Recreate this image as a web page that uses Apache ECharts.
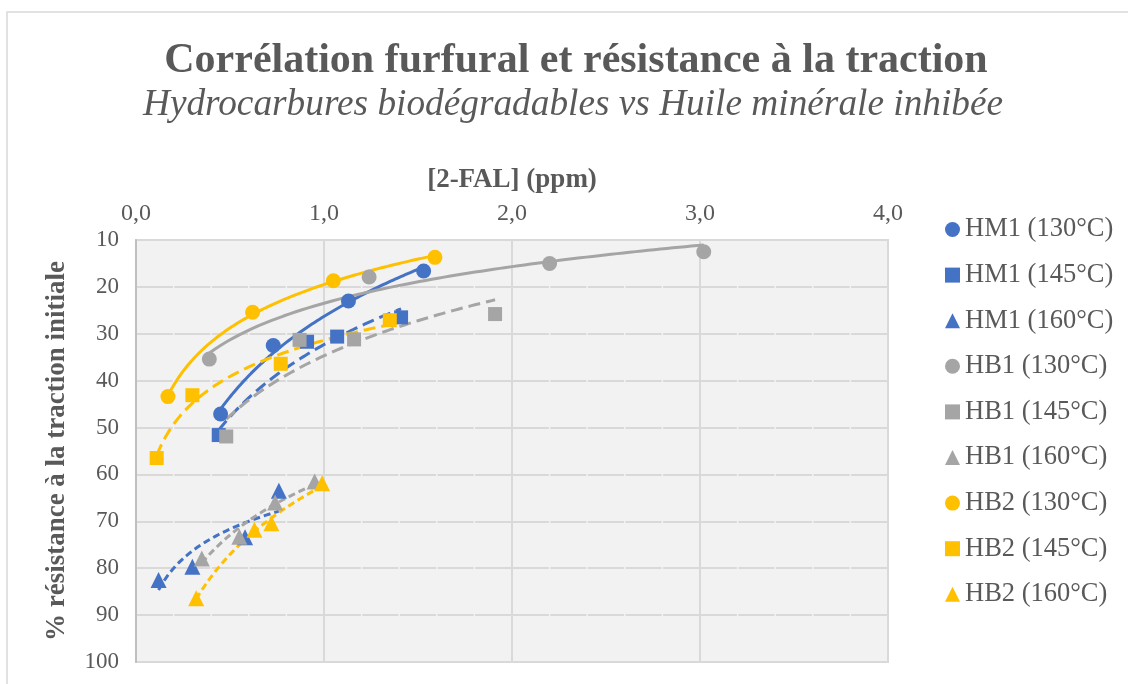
<!DOCTYPE html>
<html>
<head>
<meta charset="utf-8">
<script src="https://cdn.jsdelivr.net/npm/echarts@6/dist/echarts.min.js"></script>
<style>
  html, body { margin: 0; padding: 0; background: #ffffff; }
  #chart { width: 1128px; height: 684px; }
</style>
</head>
<body>
<div id="chart"></div>
<script>
// [2-FAL] concentration (ppm) and % of initial tensile strength, per oil and ageing temperature
const hm1_130_x = [0.45, 0.73, 1.13, 1.53];
const hm1_130_y = [47.1, 32.5, 23.0, 16.6];
const hm1_145_x = [0.44, 0.91, 1.07, 1.41];
const hm1_145_y = [51.6, 31.7, 30.6, 26.5];
const hm1_160_x = [0.12, 0.30, 0.58, 0.76];
const hm1_160_y = [82.5, 79.7, 73.4, 63.5];
const hb1_130_x = [0.39, 1.24, 2.20, 3.02];
const hb1_130_y = [35.4, 17.9, 15.0, 12.5];
const hb1_145_x = [0.48, 0.87, 1.16, 1.91];
const hb1_145_y = [51.9, 31.3, 31.2, 25.8];
const hb1_160_x = [0.35, 0.55, 0.74, 0.95];
const hb1_160_y = [77.9, 73.3, 66.0, 61.5];
const hb2_130_x = [0.17, 0.62, 1.05, 1.59];
const hb2_130_y = [43.4, 25.4, 18.7, 13.7];
const hb2_145_x = [0.11, 0.30, 0.77, 1.35];
const hb2_145_y = [56.5, 43.1, 36.4, 27.1];
const hb2_160_x = [0.32, 0.63, 0.72, 0.99];
const hb2_160_y = [86.4, 71.8, 70.4, 61.9];

const seriesNames = [
  'HM1 (130°C)', 'HM1 (145°C)', 'HM1 (160°C)',
  'HB1 (130°C)', 'HB1 (145°C)', 'HB1 (160°C)',
  'HB2 (130°C)', 'HB2 (145°C)', 'HB2 (160°C)'
];
const xTickLabels = ['0,0', '1,0', '2,0', '3,0', '4,0'];
const yTickValues = [10, 20, 30, 40, 50, 60, 70, 80, 90, 100];

const title = 'Corrélation furfural et résistance à la traction';
const subtitle = 'Hydrocarbures biodégradables vs Huile minérale inhibée';
const xName = '[2-FAL] (ppm)';
const yName = '% résistance à la traction initiale';

// ---- styling ----
const FONT = '"Liberation Serif", "Times New Roman", serif';
const TXT = '#595959';
const BLUE = '#4472C4', GRAY = '#A5A5A5', GOLD = '#FFC000';

const groups = [
  { x: hm1_130_x, y: hm1_130_y, color: BLUE, symbol: 'circle', size: 15, dash: 'solid' },
  { x: hm1_145_x, y: hm1_145_y, color: BLUE, symbol: 'rect', size: 14, dash: [12, 6] },
  { x: hm1_160_x, y: hm1_160_y, color: BLUE, symbol: 'triangle', size: 16, dash: [7, 4] },
  { x: hb1_130_x, y: hb1_130_y, color: GRAY, symbol: 'circle', size: 15, dash: 'solid' },
  { x: hb1_145_x, y: hb1_145_y, color: GRAY, symbol: 'rect', size: 14, dash: [12, 6] },
  { x: hb1_160_x, y: hb1_160_y, color: GRAY, symbol: 'triangle', size: 16, dash: [7, 4] },
  { x: hb2_130_x, y: hb2_130_y, color: GOLD, symbol: 'circle', size: 15, dash: 'solid' },
  { x: hb2_145_x, y: hb2_145_y, color: GOLD, symbol: 'rect', size: 14, dash: [12, 6] },
  { x: hb2_160_x, y: hb2_160_y, color: GOLD, symbol: 'triangle', size: 16, dash: [7, 4] }
];

// Logarithmic least-squares trend line y = a + b·ln(x), drawn over the measured x range
function logTrend(xs, ys, steps) {
  const n = xs.length;
  const lx = xs.map(Math.log);
  const mx = lx.reduce((s, v) => s + v, 0) / n;
  const my = ys.reduce((s, v) => s + v, 0) / n;
  let sxy = 0, sxx = 0;
  for (let i = 0; i < n; i++) { sxy += (lx[i] - mx) * (ys[i] - my); sxx += (lx[i] - mx) ** 2; }
  const b = sxy / sxx, a = my - b * mx;
  const x0 = Math.min(...xs), x1 = Math.max(...xs);
  const pts = [];
  for (let i = 0; i <= steps; i++) {
    const x = x0 + (x1 - x0) * i / steps;
    pts.push([x, a + b * Math.log(x)]);
  }
  return pts;
}

const series = [];
groups.forEach((g, i) => {
  series.push({
    name: seriesNames[i] + ' – tendance',
    type: 'line',
    data: logTrend(g.x, g.y, 80),
    showSymbol: false,
    symbol: 'none',
    silent: true,
    z: 2,
    lineStyle: { color: g.color, width: 3, type: g.dash, cap: 'butt' }
  });
});
groups.forEach((g, i) => {
  series.push({
    name: seriesNames[i],
    type: 'scatter',
    data: g.x.map((v, k) => [v, g.y[k]]),
    symbol: g.symbol,
    symbolSize: g.size,
    z: 3,
    itemStyle: { color: g.color, opacity: 1 }
  });
});

const grid = { left: 136, top: 240, width: 752, height: 422 };
const minorStep = grid.width / 20; // minor division every 0.2 ppm

const chart = echarts.init(document.getElementById('chart'), null, { renderer: 'canvas' });
chart.setOption({
  backgroundColor: '#ffffff',
  animation: false,
  textStyle: { fontFamily: FONT },
  graphic: [
    { type: 'rect', z: -10, silent: true,
      shape: { x: 7, y: 12, width: 1200, height: 800 },
      style: { fill: 'none', stroke: '#d9d9d9', lineWidth: 1.5 } },
    { type: 'text', x: 576, y: 61, silent: true,
      style: { text: title, fill: TXT, font: 'bold 42px ' + FONT, align: 'center', verticalAlign: 'middle' } },
    { type: 'text', x: 573, y: 105, silent: true,
      style: { text: subtitle, fill: TXT, font: 'italic 37.3px ' + FONT, align: 'center', verticalAlign: 'middle' } }
  ],
  grid: Object.assign({ show: true, backgroundColor: '#f2f2f2', borderColor: '#d9d9d9', borderWidth: 2 }, grid),
  legend: {
    orient: 'vertical',
    left: 945,
    top: 216,
    itemWidth: 15,
    itemHeight: 15,
    itemGap: 18.6,
    padding: 0,
    selectedMode: false,
    textStyle: { fontFamily: FONT, fontSize: 26.5, color: TXT, lineHeight: 26 },
    data: seriesNames.map((n, i) => ({ name: n, icon: groups[i].symbol }))
  },
  xAxis: {
    type: 'value',
    position: 'top',
    min: 0, max: 4, interval: 1,
    name: xName,
    nameLocation: 'middle',
    nameGap: 46,
    nameTextStyle: { fontFamily: FONT, fontSize: 27, fontWeight: 'bold', color: TXT },
    axisLine: { show: false },
    axisTick: { show: false },
    axisLabel: {
      margin: 14, fontSize: 24, color: TXT, fontFamily: FONT,
      formatter: v => xTickLabels[Math.round(v)]
    },
    splitLine: { show: true, lineStyle: { color: '#d9d9d9', width: 2 } }
  },
  yAxis: {
    type: 'value',
    inverse: true,
    min: yTickValues[0], max: yTickValues[yTickValues.length - 1], interval: 10,
    name: yName,
    nameLocation: 'middle',
    nameRotate: 90,
    nameGap: 65,
    nameTextStyle: { fontFamily: FONT, fontSize: 27, fontWeight: 'bold', color: TXT },
    axisLine: { show: true, lineStyle: { color: '#bfbfbf', width: 2 } },
    axisTick: { show: false },
    axisLabel: { margin: 17, fontSize: 23, color: TXT, fontFamily: FONT },
    splitLine: {
      show: true,
      lineStyle: {
        color: '#d9d9d9', width: 2,
        type: [minorStep - 1.5, 1.5],
        dashOffset: minorStep - 0.75
      }
    }
  },
  series: series
});
</script>
</body>
</html>
